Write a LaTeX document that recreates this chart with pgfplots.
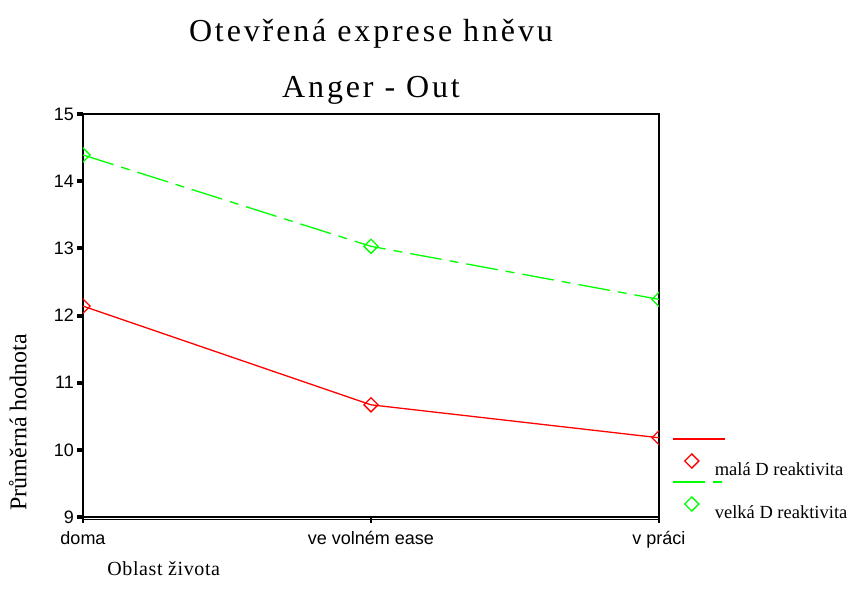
\documentclass[border=0pt]{standalone}
\usepackage{pgfplots}
\pgfplotsset{compat=1.18}
\usepackage{fontspec}
\setmainfont{Liberation Serif}
\newfontfamily\arialfont{Liberation Sans}
\newfontfamily\titlefont[LetterSpace=9]{Liberation Serif}
\newfontfamily\labelfont[LetterSpace=3]{Liberation Serif}
\definecolor{myred}{RGB}{255,0,0}
\definecolor{mygreen}{RGB}{0,255,0}
\begin{document}
\begin{tikzpicture}
\useasboundingbox (-83pt,-81pt) rectangle (768pt,517pt);
\begin{axis}[
  at={(0pt,0pt)}, anchor=south west,
  scale only axis, width=576pt, height=403pt,
  xmin=0, xmax=2, ymin=9, ymax=15,
  xtick={0,1,2},
  xticklabels={doma, ve volném ease, v práci},
  ytick={9,10,11,12,13,14,15},
  xtick pos=bottom, ytick pos=left,
  tick align=outside,
  major tick length=6pt,
  y tick style={black, line width=4pt},
  x tick style={black, line width=2.5pt},
  axis line style={black, line width=1.8pt},
  /pgf/number format/assume math mode=true,
  tick label style={font=\arialfont\fontsize{18}{18}\selectfont},
  y tick label style={inner sep=0pt, xshift=-3pt},
  x tick label style={inner sep=0pt, yshift=-8pt, anchor=north},
  clip mode=individual,
  clip marker paths=true,
  legend cell align=left,
  legend style={draw=none, fill=none, inner sep=0pt, outer sep=0pt,
    at={(axis description cs:1.024,0.1365)}, anchor=north west,
    row sep=24pt, column sep=0pt,
    nodes={inner sep=0pt, anchor=base west},
    font=\fontsize{18.5}{18.5}\selectfont},
  legend image code/.code={
    \draw[#1,mark=none,overlay] (-19pt,37pt) -- (33pt,37pt);
    \draw[#1,overlay] plot[only marks] coordinates {(0pt,15pt)};
    \path[draw=none,fill=none] (-19pt,-5pt) rectangle (23pt,14pt);
  },
]
\addplot[color=myred, line width=1.3pt, mark=square, mark size=5pt,
  mark options={solid, rotate=45, line width=1.3pt}]
  coordinates {(0,12.14) (1,10.67) (2,10.18)};
\addlegendentry{malá D reaktivita}
\addplot[color=mygreen, line width=1.3pt, dash pattern=on 32pt off 8pt on 9pt off 8pt,
  mark=square, mark size=5pt, mark options={solid, rotate=45, line width=1.3pt}]
  coordinates {(0,14.39) (1,13.03) (2,12.24)};
\addlegendentry{velká D reaktivita}
\draw[black, line width=0.9pt] (axis description cs:0,0) ++(0pt,-2.2pt) -- ([yshift=-2.2pt]axis description cs:1,0);
\node[font=\titlefont\fontsize{32}{32}\selectfont] at (axis description cs:0.5,1.2) {Otevřená exprese hněvu};
\node[font=\titlefont\fontsize{32}{32}\selectfont] at (axis description cs:0.5,1.058) {Anger - Out};
\node[font=\fontsize{24}{24}\selectfont, rotate=90] at (axis description cs:-0.113,0.235) {Průměrná hodnota};
\node[font=\labelfont\fontsize{20}{20}\selectfont, anchor=west, inner sep=0pt] at (axis description cs:0.042,-0.127) {Oblast života};
\end{axis}
\end{tikzpicture}
\end{document}
